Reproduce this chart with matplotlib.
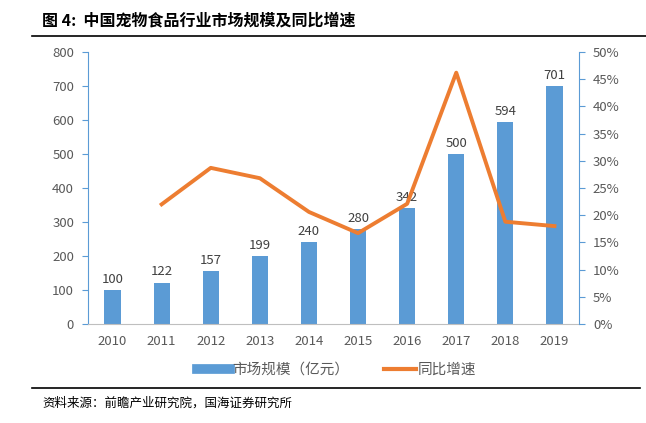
import matplotlib
matplotlib.use("Agg")
import matplotlib.pyplot as plt
from matplotlib.lines import Line2D
from matplotlib.ticker import FuncFormatter

plt.rcParams['font.family'] = ['Noto Sans CJK SC', 'DejaVu Sans']

years = ["2010", "2011", "2012", "2013", "2014", "2015", "2016", "2017", "2018", "2019"]
market = [100, 122, 157, 199, 240, 280, 342, 500, 594, 701]
growth_years = ["2011", "2012", "2013", "2014", "2015", "2016", "2017", "2018", "2019"]
growth = [22.0, 28.7, 26.8, 20.6, 16.7, 22.1, 46.2, 18.8, 18.0]

W, H = 646, 423
fig = plt.figure(figsize=(W/100, H/100), dpi=100)
ax = fig.add_axes([88/W, 1-324/H, (579-88)/W, (324-52)/H])
ax2 = ax.twinx()

x = list(range(len(years)))
bar_c = "#5B9BD5"
line_c = "#ED7D31"
grey = "#595959"
ax.bar(x, market, width=0.33, color=bar_c, zorder=2)
for xi, v in zip(x, market):
    ax.text(xi, v + 12, str(v), ha='center', va='bottom', fontsize=9.5, color="#404040")

gx = [years.index(y) for y in growth_years]
ax2.plot(gx, growth, color=line_c, linewidth=2.8, zorder=3)

ax.set_xlim(-0.5, len(years) - 0.5)
ax.set_ylim(0, 800)
ax.set_yticks(range(0, 801, 100))
ax2.set_ylim(0, 50)
ax2.set_yticks(range(0, 51, 5))
ax2.yaxis.set_major_formatter(FuncFormatter(lambda v, p: f"{int(v)}%"))
ax.set_xticks(x)
ax.set_xticklabels(years)

for a in (ax, ax2):
    a.spines['top'].set_visible(False)
    a.tick_params(labelsize=9.5, colors=grey, length=0)
ax.spines['bottom'].set_color("#BFBFBF")
ax.spines['right'].set_visible(False)
ax2.spines['left'].set_visible(False)
ax2.spines['bottom'].set_visible(False)
ax.spines['left'].set_color(bar_c)
ax2.spines['right'].set_color(bar_c)
ax.tick_params(axis='y', which='major', length=4, color=bar_c, direction='out', pad=6)
ax2.tick_params(axis='y', which='major', length=4, color=bar_c, direction='out', pad=6)
ax.tick_params(axis='x', pad=8)

handles = [Line2D([0], [0], color=bar_c, linewidth=7), Line2D([0], [0], color=line_c, linewidth=3)]
fig.legend(handles, ["市场规模（亿元）", "同比增速"], loc='center', bbox_to_anchor=(337/W, 1-370/H),
           ncol=2, frameon=False, fontsize=10.5, labelcolor=grey, handlelength=2.2, columnspacing=2.4, handletextpad=0.15)

fig.text(42/W, 1-20/H, "图 4:  中国宠物食品行业市场规模及同比增速", fontsize=11.5, fontweight='bold', va='center', ha='left')
fig.add_artist(Line2D([32/W, 1.0], [1-36/H, 1-36/H], color='black', linewidth=1.2))
fig.add_artist(Line2D([32/W, 640/W], [1-388/H, 1-388/H], color='black', linewidth=1.2))
fig.text(42/W, 1-403/H, "资料来源：前瞻产业研究院，国海证券研究所", fontsize=9, va='center', ha='left')

fig.savefig("out.png", dpi=100)
